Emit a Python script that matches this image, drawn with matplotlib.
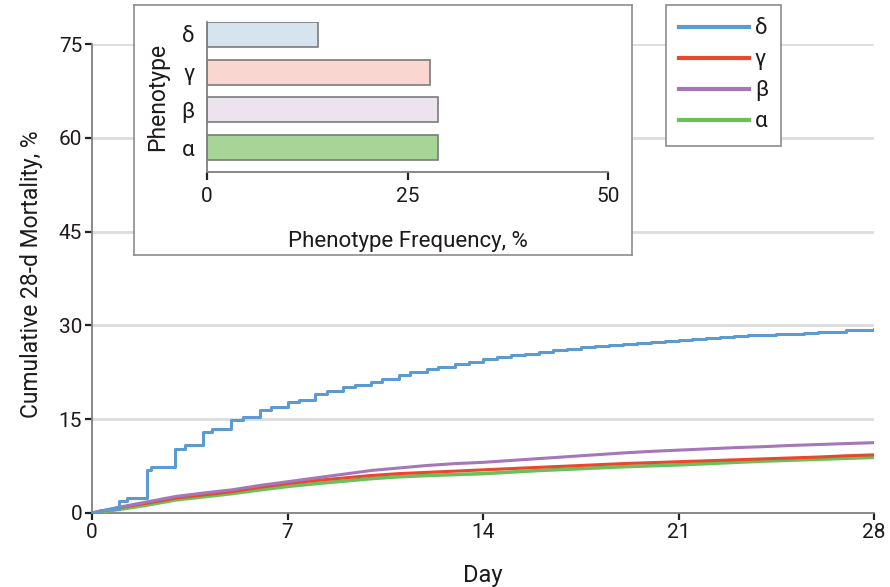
import matplotlib
matplotlib.use("Agg")
import matplotlib.pyplot as plt
from matplotlib.lines import Line2D

plt.rcParams['font.family'] = ['Roboto', 'DejaVu Sans']

# Cumulative 28-day mortality by phenotype
delta_days = [0, 0.3, 0.6, 0.98, 1.24, 1.96, 2.13, 2.97, 3.33, 3.96, 4.28, 4.96, 5.4, 6.0, 6.4,
              7.0, 7.4, 8.0, 8.4, 9.0, 9.4, 10.0, 10.4, 11.0, 11.4, 12.0, 12.4, 13.0, 13.5,
              14.0, 14.5, 15.0, 15.5, 16.0, 16.5, 17.0, 17.5, 18.0, 18.5, 19.0, 19.5, 20.0,
              20.5, 21.0, 21.5, 22.0, 22.5, 23.0, 23.5, 24.0, 24.5, 25.0, 25.5, 26.0, 26.5,
              27.0, 27.5, 28.0]
delta_mort = [0, 0.4, 0.7, 1.95, 2.4, 6.9, 7.3, 10.2, 10.8, 13.0, 13.45, 14.9, 15.4, 16.4, 16.9,
              17.7, 18.1, 19.0, 19.5, 20.1, 20.4, 21.0, 21.4, 22.1, 22.5, 23.1, 23.4, 23.9, 24.2,
              24.6, 24.9, 25.2, 25.5, 25.7, 26.0, 26.2, 26.5, 26.7, 26.9, 27.0, 27.2, 27.4,
              27.5, 27.7, 27.8, 28.0, 28.1, 28.3, 28.4, 28.5, 28.6, 28.7, 28.8, 28.9, 29.0,
              29.2, 29.3, 29.4]

days = list(range(29))
gamma_mort = [0, 0.9, 1.6, 2.4, 2.9, 3.4, 4.1, 4.7, 5.2, 5.6, 6.0, 6.3, 6.5, 6.7, 6.9,
              7.1, 7.3, 7.5, 7.7, 7.9, 8.05, 8.2, 8.35, 8.5, 8.65, 8.8, 8.95, 9.15, 9.3]
beta_mort = [0, 0.95, 1.8, 2.65, 3.2, 3.7, 4.4, 5.0, 5.6, 6.2, 6.8, 7.2, 7.6, 7.9, 8.1,
             8.4, 8.7, 9.0, 9.3, 9.6, 9.85, 10.05, 10.25, 10.45, 10.6, 10.8, 10.95, 11.1, 11.25]
alpha_mort = [0, 0.6, 1.3, 2.1, 2.6, 3.1, 3.7, 4.25, 4.7, 5.1, 5.5, 5.8, 6.0, 6.15, 6.3,
              6.55, 6.8, 7.0, 7.2, 7.4, 7.55, 7.7, 7.9, 8.1, 8.3, 8.45, 8.6, 8.75, 8.9]

# Phenotype frequency (inset)
phenotypes = ['α', 'β', 'γ', 'δ']
frequency = [28.8, 28.8, 27.8, 13.8]
bar_fill = ['#a6d597', '#ede3ef', '#f9d6cf', '#d6e4ef']

line_colors = {'δ': '#5b9bd1', 'γ': '#e8492c', 'β': '#a577b8', 'α': '#6cc05c'}
text_color = '#1e1a1c'
axis_gray = '#7f7f7f'

fig = plt.figure(figsize=(8.9, 5.87), dpi=100)

# Main cumulative mortality axes
ax = fig.add_axes([92 / 890, 74 / 587, 782 / 890, 469 / 587])
ax.set_xlim(0, 28)
ax.set_ylim(0, 75)
for y in [15, 30, 45, 60, 75]:
    ax.axhline(y, color='#dcdcdc', lw=2, zorder=0)

ax.plot(days, alpha_mort, color=line_colors['α'], lw=2.6, zorder=3)
ax.plot(days, gamma_mort, color=line_colors['γ'], lw=2.2, zorder=4)
ax.plot(days, beta_mort, color=line_colors['β'], lw=2.2, zorder=5)
ax.plot(delta_days, delta_mort, color=line_colors['δ'], lw=2.2, drawstyle='steps-post', zorder=6)

ax.set_xticks([0, 7, 14, 21, 28])
ax.set_yticks([0, 15, 30, 45, 60, 75])
for s in ['top', 'right']:
    ax.spines[s].set_visible(False)
for s in ['left', 'bottom']:
    ax.spines[s].set_color(axis_gray)
    ax.spines[s].set_linewidth(1.3)
ax.tick_params(direction='out', length=5, width=1.6, color='#222222',
               labelsize=15, labelcolor=text_color, pad=2)
ax.set_xlabel('Day', fontsize=17, color=text_color, labelpad=16)
ax.set_ylabel('Cumulative 28-d Mortality, %', fontsize=16.5, color=text_color)
ax.yaxis.set_label_coords(-0.063, 0.51)

# Legend
handles = [Line2D([], [], color=line_colors[k], lw=3) for k in ['δ', 'γ', 'β', 'α']]
leg = fig.legend(handles, ['δ', 'γ', 'β', 'α'], loc='upper left',
                 bbox_to_anchor=(666 / 890, 1 - 5 / 587), fancybox=False,
                 edgecolor='#8c8c8c', framealpha=1, fontsize=16, handlelength=3.15,
                 handletextpad=0.25, labelspacing=0.45, borderpad=0.6,
                 borderaxespad=0)
leg.get_frame().set_linewidth(1.2)
for t in leg.get_texts():
    t.set_color(text_color)

# Inset frame
frame = fig.add_axes([134 / 890, 1 - 255 / 587, 498 / 890, 250 / 587], zorder=2)
frame.set_xticks([])
frame.set_yticks([])
for s in frame.spines.values():
    s.set_color('#8c8c8c')
    s.set_linewidth(1.2)
frame.set_facecolor('white')

# Inset phenotype frequency bars
ins = fig.add_axes([207 / 890, 1 - 172 / 587, 401 / 890, 150 / 587], zorder=3)
ins.patch.set_alpha(0)
ins.barh(range(len(phenotypes)), frequency, height=0.66, color=bar_fill,
         edgecolor='#7a7a7a', linewidth=1.2)
ins.set_xlim(0, 50)
ins.set_ylim(-0.65, 3.33)
ins.set_yticks(range(len(phenotypes)))
ins.set_yticklabels(phenotypes)
ins.set_xticks([0, 25, 50])
for s in ['top', 'right']:
    ins.spines[s].set_visible(False)
for s in ['left', 'bottom']:
    ins.spines[s].set_color(axis_gray)
    ins.spines[s].set_linewidth(1.3)
ins.tick_params(axis='y', length=0, pad=9, labelsize=16, labelcolor=text_color)
ins.tick_params(axis='x', direction='out', length=6, width=1.6, color='#222222',
                labelsize=15, labelcolor=text_color, pad=5)
ins.set_xlabel('Phenotype Frequency, %', fontsize=16, color=text_color, labelpad=18)
ins.set_ylabel('Phenotype', fontsize=16.5, color=text_color, labelpad=9)

fig.savefig('out.png', dpi=100)
